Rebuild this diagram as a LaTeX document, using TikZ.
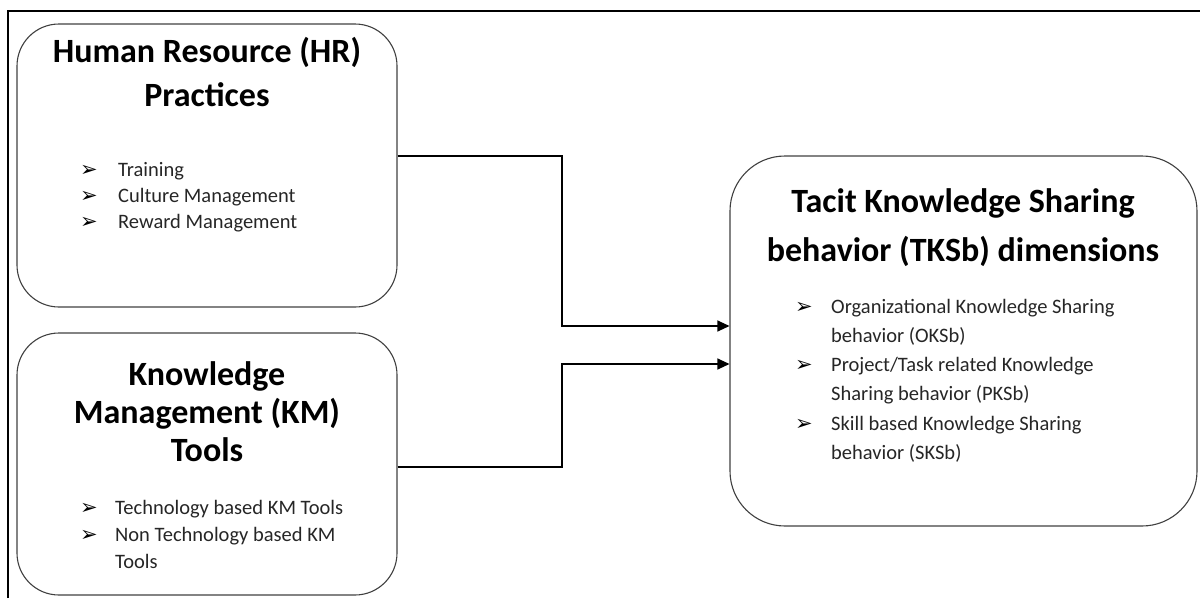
\documentclass[tikz,border=0pt]{standalone}
\usepackage{fontspec}
\setmainfont{Carlito}
\newfontfamily\symfont{DejaVu Sans}
\usetikzlibrary{arrows.meta}
\begin{document}
\begin{tikzpicture}[x=1pt,y=-1pt,
  panel/.style={draw=black!75, line width=1.1pt, inner sep=0pt},
  heading/.style={font=\bfseries\fontsize{34}{40}\selectfont, anchor=base, inner sep=0pt},
  item/.style={font=\fontsize{20.5}{24}\selectfont, text=black!85, anchor=base west, inner sep=0pt},
  bul/.style={font=\symfont\fontsize{21}{24}\selectfont, anchor=base west, inner sep=0pt},
  link/.style={line width=1.1pt, -{Triangle[length=12pt,width=11pt]}}
]
\useasboundingbox (0,0) rectangle (1200,598);

% outer frame (top and left edges)
\draw[line width=2.2pt] (8,598) -- (8,11) -- (1200,11);

% panels
\node[panel, rounded corners=42pt, minimum width=380pt, minimum height=283pt] (hr) at (207,165.5) {};
\node[panel, rounded corners=42pt, minimum width=380pt, minimum height=262pt] (km) at (207,464) {};
\node[panel, rounded corners=55pt, minimum width=467pt, minimum height=370pt] (tk) at (963.5,341) {};

% HR practices
\node[heading] (hrt1) at (207,62) {Human Resource (HR)};
\node[heading] (hrt2) at (207,106) {Practices};
\node[bul] (hrb1) at (80,176) {➢};
\node[item] (hri1) at (118,176) {Training};
\node[bul] (hrb2) at (80,202) {➢};
\node[item] (hri2) at (118,202) {Culture Management};
\node[bul] (hrb3) at (80,228) {➢};
\node[item] (hri3) at (118,228) {Reward Management};

% KM tools
\node[heading] (kmt1) at (207,385) {Knowledge};
\node[heading] (kmt2) at (207,423) {Management (KM)};
\node[heading] (kmt3) at (207,461) {Tools};
\node[bul] (kmb1) at (80,514) {➢};
\node[item] (kmi1) at (115,514) {Technology based KM Tools};
\node[bul] (kmb2) at (80,541) {➢};
\node[item] (kmi2) at (115,541) {Non Technology based KM};
\node[item] (kmi3) at (115,568) {Tools};

% TKSb dimensions
\node[heading] (tkt1) at (963,212) {Tacit Knowledge Sharing};
\node[heading] (tkt2) at (963,261) {behavior (TKSb) dimensions};
\node[bul] (tkb1) at (795,313) {➢};
\node[item] (tki1) at (831,313) {Organizational Knowledge Sharing};
\node[item] (tki2) at (831,342) {behavior (OKSb)};
\node[bul] (tkb2) at (795,371) {➢};
\node[item] (tki3) at (831,371) {Project/Task related Knowledge};
\node[item] (tki4) at (831,400) {Sharing behavior (PKSb)};
\node[bul] (tkb3) at (795,430) {➢};
\node[item] (tki5) at (831,430) {Skill based Knowledge Sharing};
\node[item] (tki6) at (831,459) {behavior (SKSb)};

% connectors
\coordinate (j1) at (562,156);
\coordinate (j2) at (562,467);
\draw[link] (hr.east |- j1) -- (j1) -- ++(0,170) -- (tk.west |- {(0,326)});
\draw[link] (km.east |- j2) -- (j2) -- ++(0,-103) -- (tk.west |- {(0,364)});
\end{tikzpicture}
\end{document}
